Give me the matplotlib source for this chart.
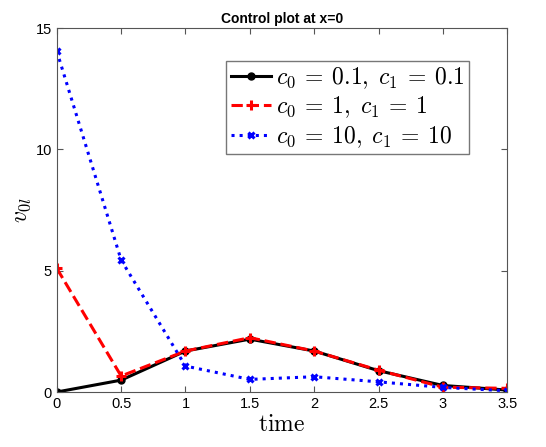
import matplotlib.pyplot as plt
import numpy as np

plt.rcParams['font.family'] = ['Liberation Sans', 'DejaVu Sans']
plt.rcParams['mathtext.fontset'] = 'cm'

time = [0, 0.5, 1, 1.5, 2, 2.5, 3, 3.5]
v_c01 = [0.0, 0.49, 1.69, 2.18, 1.69, 0.88, 0.27, 0.08]
v_c1 = [5.1, 0.66, 1.69, 2.24, 1.69, 0.90, 0.20, 0.15]
v_c10 = [14.05, 5.44, 1.07, 0.52, 0.63, 0.42, 0.19, 0.05]
labels = [r'$c_0 \:=\: 0.1,\; c_1 \:=\: 0.1$', r'$c_0 \:=\: 1,\; c_1 \:=\: 1$', r'$c_0 \:=\: 10,\; c_1 \:=\: 10$']

fig = plt.figure(figsize=(5.46, 4.47), dpi=100)
ax = fig.add_axes([0.104, 0.123, 0.825, 0.814])

ax.plot(time, v_c01, color='black', linestyle='-', linewidth=2.2, marker='o', markersize=5, label=labels[0])
ax.plot(time, v_c1, color='red', linestyle='--', linewidth=2.2, marker='+', markersize=7, markeredgewidth=2.2, label=labels[1])
ax.plot(time, v_c10, color='blue', linestyle=':', linewidth=2.2, marker='x', markersize=5, markeredgewidth=2.2, label=labels[2])

ax.set_xlim(0, 3.5)
ax.set_ylim(0, 15)
ax.set_xticks([0, 0.5, 1, 1.5, 2, 2.5, 3, 3.5])
ax.set_xticklabels(['0', '0.5', '1', '1.5', '2', '2.5', '3', '3.5'])
ax.set_yticks([0, 5, 10, 15])
ax.tick_params(direction='in', top=True, right=True, labelsize=10.5, color='#555555', length=4)
for s in ax.spines.values():
    s.set_color('#555555')

ax.set_title('Control plot at x=0', fontsize=10, fontweight='bold', pad=4)
ax.set_xlabel(r'$\mathrm{time}$', fontsize=17, labelpad=2)
ax.set_ylabel(r'$v_{0l}$', fontsize=17, labelpad=2)

leg = ax.legend(loc='upper right', bbox_to_anchor=(0.915, 0.91), fontsize=17, frameon=True, fancybox=False,
                edgecolor='#555555', handlelength=1.7, handletextpad=0.2, borderpad=0.2, labelspacing=0.15,
                borderaxespad=0)
leg.get_frame().set_linewidth(1.0)

fig.savefig('out.png', dpi=100)
